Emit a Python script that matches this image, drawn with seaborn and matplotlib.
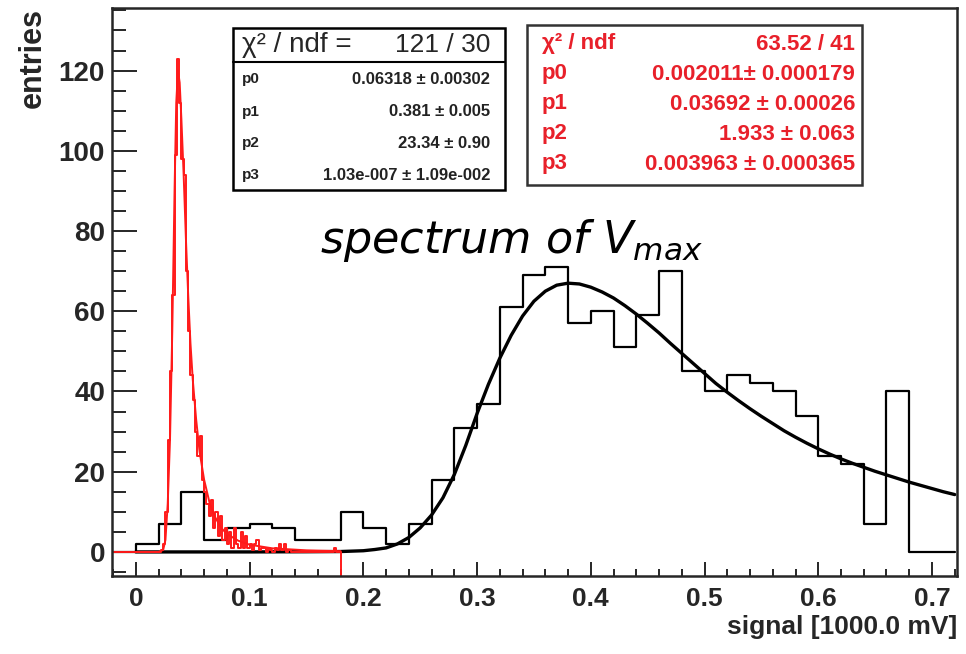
import numpy as np
import seaborn as sns
import matplotlib
matplotlib.use("Agg")
import matplotlib.pyplot as plt
from matplotlib.ticker import MultipleLocator

# black histogram: 0.02 wide bins starting at -0.02
black_lo = -0.02
black_w = 0.02
black_counts = [0, 2, 7, 15, 3, 6, 7, 6, 3, 3, 10, 6, 2, 7, 18, 31, 37, 61, 69, 71,
                57, 60, 51, 59, 70, 45, 40, 44, 42, 40, 34, 24, 22, 7, 40, 0, 0]

# red histogram: 0.002 wide bins starting at -0.02
red_lo = -0.02
red_w = 0.002
red_counts = ([0] * 21 +
              [0.5, 2, 10, 28, 45, 64, 99, 123, 112, 98, 94, 70, 55, 44, 38, 30, 24, 29, 18, 15,
               12, 9, 13, 6, 10, 4, 9, 3, 6, 2, 5, 1, 6, 2, 1, 5, 1, 4, 1, 2,
               0.5, 2, 3, 0.5, 1, 1, 0, 1, 0.5, 0, 1, 0.5, 2, 0.5, 2, 0, 0.5] +
              [0] * 19 + [1, 0, 0])

# black fit curve
fit_x = [0.00, 0.05, 0.10, 0.15, 0.18, 0.20, 0.21, 0.22, 0.23, 0.24, 0.25, 0.26, 0.27, 0.28,
         0.29, 0.30, 0.31, 0.32, 0.33, 0.34, 0.35, 0.36, 0.37, 0.38, 0.39, 0.40, 0.41, 0.42,
         0.43, 0.44, 0.45, 0.46, 0.47, 0.48, 0.49, 0.50, 0.51, 0.52, 0.53, 0.54, 0.55, 0.56,
         0.57, 0.58, 0.59, 0.60, 0.61, 0.62, 0.63, 0.64, 0.65, 0.66, 0.67, 0.68, 0.69, 0.70,
         0.71, 0.72]
fit_y = [0, 0, 0, 0.05, 0.1, 0.3, 0.6, 1.0, 2.0, 3.6, 6.0, 9.2, 13.5, 19.3,
         26.5, 34.5, 41.8, 48.3, 54.0, 58.8, 62.5, 65.0, 66.5, 67.0, 66.8, 66.0, 64.8, 63.3,
         61.4, 59.3, 57.0, 54.6, 52.0, 49.5, 47.0, 44.5, 42.0, 39.8, 37.7, 35.7, 33.8, 32.0,
         30.2, 28.6, 27.1, 25.7, 24.4, 23.2, 22.1, 21.1, 20.1, 19.2, 18.3, 17.4, 16.6, 15.8,
         15.0, 14.3]

# red fit curve
rfit_x = [0.0, 0.02, 0.024, 0.026, 0.028, 0.030, 0.032, 0.034, 0.0355, 0.037, 0.0385, 0.040,
          0.042, 0.044, 0.046, 0.048, 0.050, 0.053, 0.056, 0.060, 0.065, 0.070, 0.075, 0.08,
          0.09, 0.10, 0.12, 0.15, 0.18]
rfit_y = [0, 0, 0.5, 3, 12, 28, 55, 90, 112, 120, 117, 108,
          94, 78, 64, 52, 43, 33, 25, 18, 12, 8.5, 6, 4.5,
          2.8, 1.8, 0.9, 0.4, 0.2]

black_stats = [("p0", "0.06318 ± 0.00302"), ("p1", "0.381 ± 0.005"),
               ("p2", "23.34 ± 0.90"), ("p3", "1.03e-007 ± 1.09e-002")]
red_stats = [("χ² / ndf", "63.52 / 41"), ("p0", "0.002011± 0.000179"),
             ("p1", "0.03692 ± 0.00026"), ("p2", "1.933 ± 0.063"),
             ("p3", "0.003963 ± 0.000365")]

sns.set_style("ticks")
plt.rcParams['font.family'] = ['Liberation Sans', 'DejaVu Sans']
plt.rcParams['mathtext.fontset'] = 'dejavusans'

RED = '#ff1a1a'
TXT_RED = '#e8202a'

black_edges = black_lo + black_w * np.arange(len(black_counts) + 1)
red_edges = red_lo + red_w * np.arange(len(red_counts) + 1)

fig = plt.figure(figsize=(9.66, 6.54), dpi=100)
ax = fig.add_axes([112 / 966, 1 - 576 / 654, 845 / 966, 568 / 654])

# step histograms (counts repeated for the closing edge)
sns.lineplot(x=black_edges, y=black_counts + black_counts[-1:], drawstyle='steps-post',
             color='black', linewidth=1.6, ax=ax)
sns.lineplot(x=fit_x, y=fit_y, color='black', linewidth=2.4, ax=ax)
sns.lineplot(x=red_edges, y=red_counts + red_counts[-1:], drawstyle='steps-post',
             color=RED, linewidth=1.4, ax=ax)
sns.lineplot(x=rfit_x, y=rfit_y, color=RED, linewidth=1.4, ax=ax)

ax.set_xlim(-0.021, 0.722)
ax.set_ylim(-6, 135.6)
ax.vlines(red_edges[-1], -6, 0, color=RED, linewidth=1.4)

ax.xaxis.set_minor_locator(MultipleLocator(0.02))
ax.yaxis.set_minor_locator(MultipleLocator(5))
ax.set_xticks(np.arange(0, 0.71, 0.1))
ax.set_xticklabels(['0', '0.1', '0.2', '0.3', '0.4', '0.5', '0.6', '0.7'])
ax.set_yticks(np.arange(0, 121, 20))
ax.tick_params(direction='in', which='both', top=False, right=False, width=1.4)
ax.tick_params(axis='x', which='major', length=10, pad=8, labelsize=19)
ax.tick_params(axis='x', which='minor', length=5)
ax.tick_params(axis='y', which='major', length=18, pad=5, labelsize=20)
ax.tick_params(axis='y', which='minor', length=10)
for lab in ax.get_xticklabels() + ax.get_yticklabels():
    lab.set_fontweight('bold')
for sp in ax.spines.values():
    sp.set_visible(True)
    sp.set_linewidth(1.8)

ax.set_xlabel('signal [1000.0 mV]', loc='right', fontsize=19, fontweight='bold', labelpad=3)
ax.set_ylabel('entries', loc='top', fontsize=22, fontweight='bold', labelpad=8)


def axfrac(px, py):
    return (px - 112) / 845, (576 - py) / 568


# black stats box
x0, y0 = axfrac(233, 190)
x1, y1 = axfrac(505, 28)
ax.add_patch(plt.Rectangle((x0, y0), x1 - x0, y1 - y0, transform=ax.transAxes,
                           fill=True, facecolor='white', edgecolor='black', lw=1.8, zorder=5))
sx, sy = axfrac(233, 62)
ax.plot([x0, x1], [sy, sy], transform=ax.transAxes, color='black', lw=1.5, zorder=6)
lx, _ = axfrac(242, 0)
rx, _ = axfrac(490, 0)
_, hy = axfrac(0, 45)
ax.text(lx, hy, 'χ² / ndf =', transform=ax.transAxes, fontsize=20, va='center', ha='left', zorder=7)
ax.text(rx, hy, '121 / 30', transform=ax.transAxes, fontsize=19, va='center', ha='right', zorder=7)
for (name, val), py in zip(black_stats, [79, 112, 143, 175]):
    _, ty = axfrac(0, py)
    ax.text(lx, ty, name, transform=ax.transAxes, fontsize=11, fontweight='bold',
            va='center', ha='left', color='#222222', zorder=7)
    ax.text(rx, ty, val, transform=ax.transAxes, fontsize=12, fontweight='bold',
            va='center', ha='right', color='#222222', zorder=7)

# red stats box
x0, y0 = axfrac(527, 185)
x1, y1 = axfrac(862, 25)
ax.add_patch(plt.Rectangle((x0, y0), x1 - x0, y1 - y0, transform=ax.transAxes,
                           fill=True, facecolor='white', edgecolor='#333333', lw=1.8, zorder=5))
lx, _ = axfrac(542, 0)
rx, _ = axfrac(855, 0)
for (name, val), py in zip(red_stats, [44, 74, 104, 134, 164]):
    _, ty = axfrac(0, py)
    ax.text(lx, ty, name, transform=ax.transAxes, fontsize=16, fontweight='bold',
            va='center', ha='left', color=TXT_RED, zorder=7)
    ax.text(rx, ty, val, transform=ax.transAxes, fontsize=16, fontweight='bold',
            va='center', ha='right', color=TXT_RED, zorder=7)

tx, ty = axfrac(511, 253)
ax.text(tx, ty, r'$\mathit{spectrum\ of\ V_{max}}$', transform=ax.transAxes,
        fontsize=32, ha='center', va='baseline', color='black')

fig.savefig('out.png', dpi=100)
